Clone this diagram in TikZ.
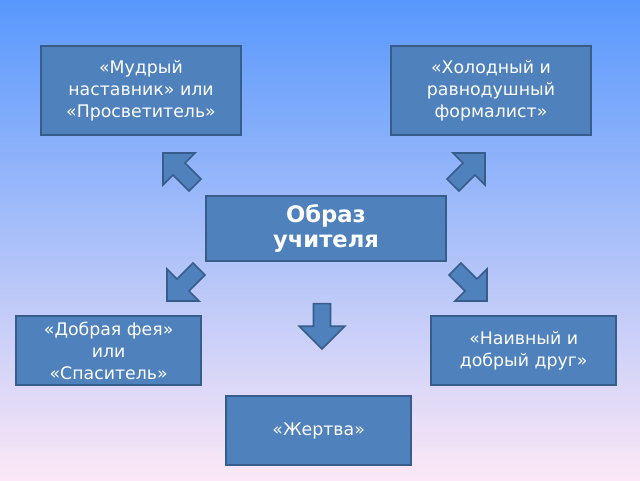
\documentclass[tikz,border=0pt]{standalone}
\usepackage{fontspec}
\setmainfont{DejaVu Sans}
\usetikzlibrary{shapes.arrows}
\definecolor{boxfill}{RGB}{79,129,189}
\definecolor{boxline}{RGB}{56,93,138}
\definecolor{bgtop}{RGB}{88,152,252}
\definecolor{bgbottom}{RGB}{252,232,246}
\tikzset{
  rolebox/.style={draw=boxline, line width=1.5pt, fill=boxfill, text=white,
    align=center, font=\fontsize{13}{16.5}\selectfont, inner sep=2pt},
  blockarrow/.style={single arrow, draw=boxline, line width=1.2pt, fill=boxfill,
    minimum height=34pt, minimum width=34pt, single arrow head extend=6pt,
    inner sep=3pt}
}
\begin{document}
\begin{tikzpicture}[x=0.75pt,y=-0.75pt]
\useasboundingbox (0,0) rectangle (640,480);
%background
\shade[top color=bgtop, bottom color=bgbottom] (0,0) rectangle (640,480);

%boxes
\node[rolebox, minimum width=150pt, minimum height=67pt, anchor=north west] (wise) at (40,45)
  {«Мудрый\\наставник» или\\«Просветитель»};
\node[rolebox, minimum width=150pt, minimum height=67pt, anchor=north west] (cold) at (390,45)
  {«Холодный и\\равнодушный\\формалист»};
\node[rolebox, minimum width=180pt, minimum height=49pt, anchor=north west,
  font=\fontsize{17}{19}\bfseries\selectfont] (image) at (205,195) {Образ\\учителя};
\node[rolebox, minimum width=139pt, minimum height=52pt, anchor=north west] (fairy) at (15,315)
  {«Добрая фея»\\или\\«Спаситель»};
\node[rolebox, minimum width=139pt, minimum height=52pt, anchor=north west] (friend) at (430,315)
  {«Наивный и\\добрый друг»};
\node[rolebox, minimum width=139pt, minimum height=52pt, anchor=north west] (victim) at (225,395)
  {«Жертва»};

%arrows
\node[blockarrow, rotate=135] (aw) at (182,172) {};
\node[blockarrow, rotate=45] (ac) at (466,172) {};
\node[blockarrow, rotate=225] (af) at (186,282) {};
\node[blockarrow, rotate=-45] (afr) at (468,282) {};
\node[blockarrow, rotate=270] (av) at (322,322) {};
\end{tikzpicture}
\end{document}
